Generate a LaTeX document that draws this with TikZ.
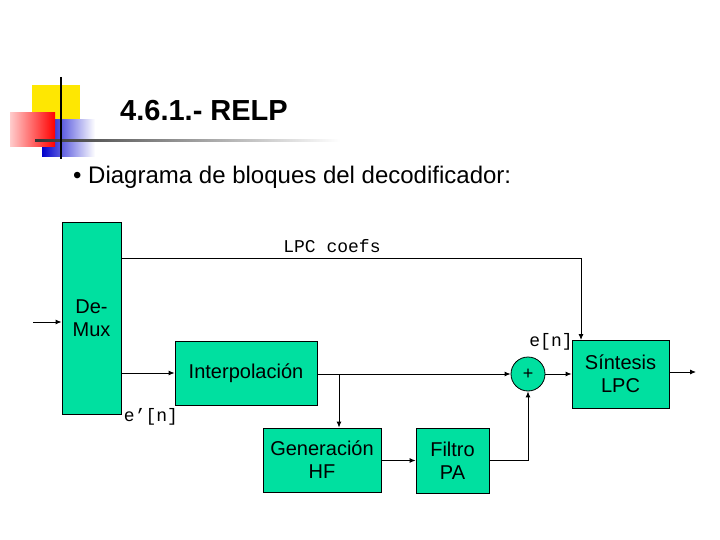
\documentclass[tikz,border=0pt]{standalone}
\usepackage{fontspec}
\setmainfont{Liberation Sans}
\setmonofont{Liberation Mono}
\usetikzlibrary{arrows.meta}
\definecolor{boxg}{HTML}{00E0A0}
\begin{document}
\begin{tikzpicture}[x=1pt,y=-1pt,
  blk/.style={draw,fill=boxg,line width=0.8pt,align=center,font=\fontsize{20}{23}\selectfont,inner sep=0pt},
  arr/.style={line width=0.9pt,-{Latex[length=6pt,width=5pt]}},
  ln/.style={line width=0.9pt},
  lbl/.style={font=\ttfamily\fontsize{18}{20}\selectfont,inner sep=0pt}]
\useasboundingbox (0,0) rectangle (720,540);
% logo
\fill[yellow!90!orange] (32,85) rectangle (80,120);
\shade[left color=blue!80!black,right color=white] (42,120) rectangle (95,157);
\shade[left color=red!20,right color=red] (10,113) rectangle (55,147);
\shade[left color=black!80,right color=white] (35,140) rectangle (340,142);
\draw[line width=2pt] (61,77) -- (61,159);
\node[font=\bfseries\fontsize{29}{31}\selectfont,anchor=west,inner sep=0pt] (title) at (120,111) {4.6.1.- RELP};
\node[font=\fontsize{24}{26}\selectfont,anchor=west,inner sep=0pt] (bul) at (73,177) {• Diagrama de bloques del decodificador:};
% blocks
\node[blk,minimum width=59pt,minimum height=192pt] (dm) at (91.5,318) {};
\node[font=\fontsize{20}{23}\selectfont,align=center] (dmt) at (91.5,318) {De-\\Mux};
\node[blk,minimum width=142pt,minimum height=64pt] (ip) at (246,373) {Interpolación};
\node[blk,minimum width=118pt,minimum height=64pt] (gh) at (322,460) {Generación\\HF};
\node[blk,minimum width=73pt,minimum height=65pt] (fp) at (452.5,460.5) {Filtro\\PA};
\node[blk,minimum width=97pt,minimum height=68pt] (si) at (620.5,374) {Síntesis\\LPC};
\node[draw,fill=boxg,circle,minimum size=34pt,inner sep=0pt,line width=0.8pt,font=\fontsize{18}{20}\selectfont] (pl) at (528,374) {+};
\coordinate (in) at (33,322);
\coordinate (out) at (696,372);
\coordinate (br) at (339,374);
% connectors
\draw[arr] (in) -- (dm.west|-in);
\draw[arr] (dm.east|-ip) -- (ip.west);
\draw[ln] (dm.east|-0,258) -| (581,258) coordinate (c1);
\draw[arr] (c1) -- (581,340);
\draw[arr] (ip.east|-pl) -- (pl.west);
\draw[arr] (br) -- (br|-gh.north);
\draw[arr] (gh.east|-fp) -- (fp.west);
\draw[arr] (fp.east) -| (pl.south);
\draw[arr] (pl.east) -- (si.west|-pl);
\draw[arr] (si.east|-out) -- (out);
\node[lbl] (l1) at (332,246) {LPC coefs};
\node[lbl] (l2) at (551,342) {e[n]};
\node[lbl] (l3) at (151,417) {e’[n]};
\end{tikzpicture}
\end{document}
